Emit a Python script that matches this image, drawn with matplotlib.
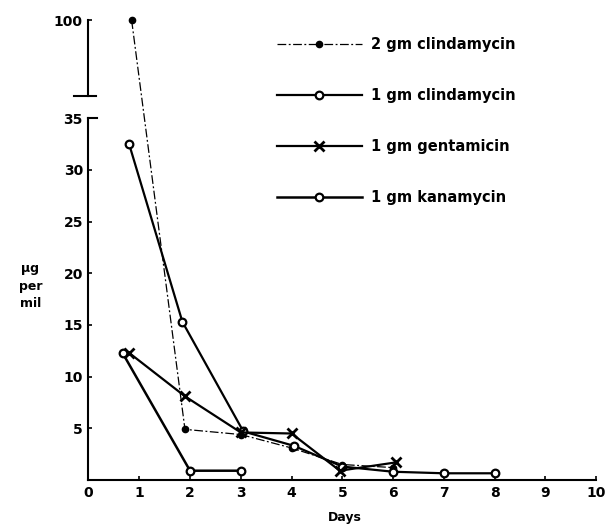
import numpy as np
import matplotlib
matplotlib.use("Agg")
import matplotlib.pyplot as plt
from matplotlib.legend_handler import HandlerLine2D
from matplotlib.ticker import NullLocator

# ---- data ----
clinda2_days = [0.85, 1.9, 3.0, 4.0, 5.0, 6.0]
clinda2_vals = [100, 4.9, 4.4, 3.1, 1.5, 1.2]

clinda1_days = [0.8, 1.85, 3.05, 4.05, 5.0, 6.0, 7.0, 8.0]
clinda1_vals = [32.5, 15.3, 4.7, 3.3, 1.3, 0.8, 0.65, 0.65]

genta_days = [0.8, 1.9, 3.0, 4.0, 4.95, 6.05]
genta_vals = [12.3, 8.1, 4.6, 4.5, 0.9, 1.7]

kana_days = [0.67, 2.0, 3.0]
kana_vals = [12.3, 0.9, 0.9]

labels = ["2 gm clindamycin", "1 gm clindamycin", "1 gm gentamicin", "1 gm kanamycin"]
xticks = list(range(0, 11))
yticks = [5, 10, 15, 20, 25, 30, 35, 100]

BREAK = 35.0
K = 0.1458  # compression of the upper (broken) part of the y axis


def fwd(y):
    y = np.asarray(y, dtype=float)
    return np.where(y <= BREAK, y, BREAK + (y - BREAK) * K)


def inv(t):
    t = np.asarray(t, dtype=float)
    return np.where(t <= BREAK, t, BREAK + (t - BREAK) / K)


class TwoMarkerHandler(HandlerLine2D):
    def get_xdata(self, legend, xdescent, ydescent, width, height, fontsize):
        x0 = -xdescent
        xdata = np.array([x0, x0 + width])
        xm = np.array([x0 + 0.27 * width, x0 + 0.73 * width])
        return xdata, xm


plt.rcParams["font.family"] = ["DejaVu Sans"]
plt.rcParams["font.weight"] = "bold"

fig = plt.figure(figsize=(6.09, 5.25), dpi=100)
ax = fig.add_axes([0.1453, 0.0857, 0.842, 0.886])
ax.set_yscale("function", functions=(fwd, inv))

l1, = ax.plot(clinda2_days, clinda2_vals, color="black", lw=0.9,
              linestyle=(0, (7, 2, 1.5, 2)), marker="o", ms=4.5,
              mfc="black", mec="black", label=labels[0])
l2, = ax.plot(clinda1_days, clinda1_vals, color="black", lw=1.6,
              marker="o", ms=5.5, mfc="white", mec="black", mew=1.6,
              label=labels[1])
l3, = ax.plot(genta_days, genta_vals, color="black", lw=1.6,
              marker="x", ms=6.5, mew=2.0, label=labels[2])
l4, = ax.plot(kana_days, kana_vals, color="black", lw=1.8,
              marker="o", ms=5.5, mfc="white", mec="black", mew=1.6,
              label=labels[3])

ax.set_xlim(0, 10.1)
ax.set_ylim(0, inv(45.0).item())

for s in ["top", "right"]:
    ax.spines[s].set_visible(False)
ax.spines["left"].set_bounds(0, BREAK)
ax.spines["bottom"].set_bounds(0, 10)
ax.spines["left"].set_linewidth(1.5)
ax.spines["bottom"].set_linewidth(1.5)

# upper segment of the broken y axis
ax.plot([0, 0], [50, 100], color="black", lw=1.5, clip_on=False)
ax.plot([-0.28, 0.15], [50, 50], color="black", lw=1.5, clip_on=False)
ax.plot([0, 0.17], [35, 35], color="black", lw=1.5, clip_on=False)

ax.set_xticks(xticks)
ax.set_yticks(yticks)
ax.set_yticklabels([str(v) for v in yticks])
ax.yaxis.set_minor_locator(NullLocator())
ax.xaxis.set_minor_locator(NullLocator())
ax.tick_params(axis="both", direction="in", length=3, width=1.2,
               labelsize=10, pad=4)
for t in ax.get_xticklabels() + ax.get_yticklabels():
    t.set_fontweight("bold")

ax.set_xlabel("Days", fontsize=9, fontweight="bold", labelpad=8)

fig.text(0.05, 0.455, "\u03bcg\nper\nmil", ha="center", va="center",
         fontsize=9, fontweight="bold", linespacing=1.45)

leg = ax.legend(handles=[l1, l2, l3, l4],
                handler_map={l: TwoMarkerHandler() for l in [l1, l2, l3, l4]},
                loc="upper left", bbox_to_anchor=(0.455, 0.930),
                bbox_transform=fig.transFigure, frameon=False,
                borderpad=0, borderaxespad=0, handlelength=5.8,
                handletextpad=0.65, labelspacing=2.47,
                prop={"size": 10.5, "weight": "bold"})

fig.savefig("out.png", dpi=100)
